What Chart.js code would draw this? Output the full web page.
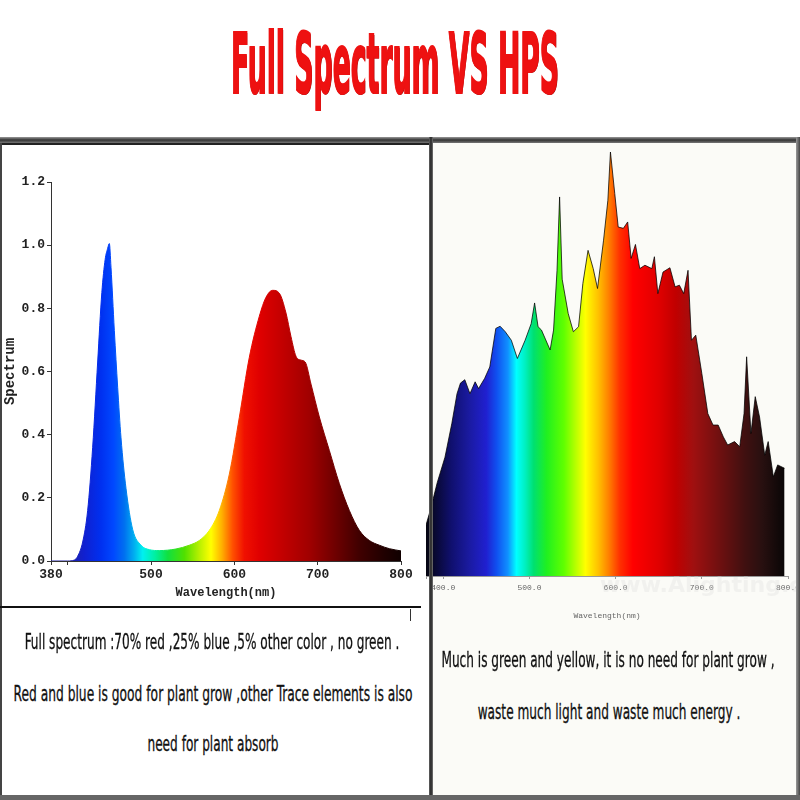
<!DOCTYPE html>
<html>
<head>
<meta charset="utf-8">
<title>Full Spectrum VS HPS</title>
<script src="https://cdn.jsdelivr.net/npm/chart.js@4.4.0/dist/chart.umd.min.js"></script>
<style>
html, body { margin: 0; padding: 0; background: #fff; }
#page { position: relative; width: 800px; height: 800px; overflow: hidden; background: #fff; }
#rightBg { position: absolute; left: 431px; top: 143px; width: 366px; height: 652px; background: #fbfbf7; }
.box { position: absolute; }
#title {
    position: absolute; left: 395px; top: 22px;
    font-family: "Liberation Sans Narrow", "DejaVu Sans Condensed", sans-serif;
    font-weight: bold; font-size: 84px; line-height: 1; color: #ee1111;
    white-space: nowrap; -webkit-text-stroke: 2px #ee1111; text-shadow: 1px 1px 0 #7a0000;
}
.txt {
    position: absolute; white-space: nowrap; line-height: 1;
    font-family: "Liberation Sans Narrow", "DejaVu Sans Condensed", sans-serif;
    font-size: 21px; color: #111; -webkit-text-stroke: 0.3px #111;
}
#leftWrap { position: absolute; left: 0; top: 145px; width: 425px; height: 457px; }
#rightWrap { position: absolute; left: 420px; top: 145px; width: 380px; height: 480px; }
#mark {
    position: absolute; left: 600px; top: 572px; font-family: "DejaVu Sans", sans-serif;
    font-weight: bold; font-size: 22px; color: rgba(220, 220, 220, 0.3); white-space: nowrap;
}
</style>
</head>
<body>
<div id="page">
    <div id="rightBg"></div>
    <div id="title" data-w="328">Full Spectrum VS HPS</div>

    <div id="leftWrap"><canvas id="fullChart"></canvas></div>
    <div id="rightWrap"><canvas id="hpsChart"></canvas></div>
    <div id="mark">www.Alighting.cn</div>

    <!-- frame lines -->
    <div class="box" style="left:0;top:137px;width:800px;height:6px;background:linear-gradient(#999,#333,#777);"></div>
    <div class="box" style="left:0;top:143px;width:429px;height:2px;background:#222;"></div>
    <div class="box" style="left:0;top:143px;width:2px;height:657px;background:#444;"></div>
    <div class="box" style="left:429px;top:137px;width:4px;height:663px;background:linear-gradient(90deg,#666,#222,#777);"></div>
    <div class="box" style="left:796px;top:137px;width:4px;height:663px;background:linear-gradient(90deg,#999,#444);"></div>
    <div class="box" style="left:0;top:795px;width:800px;height:5px;background:#666;"></div>
    <div class="box" style="left:0;top:606px;width:421px;height:1.5px;background:#111;"></div>
    <div class="box" style="left:410px;top:609px;width:1px;height:12px;background:#333;"></div>

    <!-- captions -->
    <div class="txt" style="left:212px;top:632px;" data-w="375">Full spectrum :70% red ,25% blue ,5% other color , no green .</div>
    <div class="txt" style="left:213px;top:684px;" data-w="399">Red and blue is good for plant grow ,other Trace elements is also</div>
    <div class="txt" style="left:213px;top:734px;" data-w="131">need for plant absorb</div>
    <div class="txt" style="left:608px;top:650px;" data-w="333">Much is green and yellow, it is no need for plant grow ,</div>
    <div class="txt" style="left:609px;top:702px;" data-w="263">waste much light and waste much energy .</div>
</div>

<script>
// Full spectrum LED curve (wavelength nm -> relative output)
const leftWavelengths = [380, 400, 408, 412, 418, 424, 430, 436, 441, 445, 448, 450, 452, 456, 460, 464, 470, 478, 488, 498,
    510, 530, 546, 558, 570, 582, 594, 606, 618, 630, 638, 646, 654, 662, 668, 674, 680, 685, 692, 702,
    714, 726, 738, 750, 762, 774, 786, 800];
const leftValues = [0, 0, 0.003, 0.015, 0.06, 0.16, 0.36, 0.63, 0.85, 0.955, 0.99, 1.005, 0.93, 0.73, 0.55, 0.39, 0.23, 0.10, 0.05, 0.036,
    0.033, 0.038, 0.05, 0.065, 0.097, 0.16, 0.275, 0.455, 0.645, 0.775, 0.835, 0.857, 0.848, 0.785, 0.71, 0.648, 0.636, 0.63, 0.56, 0.456,
    0.35, 0.245, 0.16, 0.097, 0.065, 0.05, 0.039, 0.032];
const leftXTicks = [380, 400, 500, 600, 700, 800];

// HPS lamp curve
const hpsWavelengths = [380, 385, 393, 402, 410, 416, 420, 425, 431, 437, 441, 448, 454, 461, 466, 472, 479, 486, 495, 502,
    506, 510, 514, 524, 528, 532, 535, 538, 545, 551, 557, 562, 568, 574, 579, 586, 591, 594, 599, 603,
    609, 614, 618, 623, 628, 634, 642, 645, 649, 655, 663, 669, 674, 679, 684, 688, 693, 700, 707, 713,
    719, 725, 730, 738, 744, 749, 752, 757, 762, 767, 773, 777, 783, 788, 796];
const hpsValues = [0.12, 0.155, 0.22, 0.28, 0.36, 0.43, 0.455, 0.463, 0.43, 0.458, 0.442, 0.466, 0.493, 0.584, 0.589, 0.576, 0.556, 0.513, 0.556, 0.595,
    0.644, 0.588, 0.58, 0.533, 0.58, 0.72, 0.894, 0.70, 0.619, 0.576, 0.588, 0.69, 0.768, 0.725, 0.678, 0.792, 0.886, 1.0, 0.902, 0.823,
    0.82, 0.835, 0.749, 0.782, 0.725, 0.733, 0.725, 0.753, 0.666, 0.717, 0.727, 0.682, 0.686, 0.666, 0.721, 0.556, 0.568, 0.478, 0.383, 0.356,
    0.356, 0.328, 0.309, 0.317, 0.305, 0.383, 0.517, 0.336, 0.423, 0.375, 0.285, 0.317, 0.234, 0.262, 0.254];
const hpsXTicks = [380, 400, 500, 600, 700, 800];

// spectrum colours used for the fills
const leftStopNm = [400, 420, 440, 455, 468, 480, 490, 505, 520, 540, 558, 572, 585, 598, 612, 630, 660, 690, 720, 750, 780, 800];
const leftStopColor = ['#2020a0', '#1020d0', '#0030f0', '#0048ff', '#0070f0', '#00b0f0', '#00f0f0', '#00f0a0', '#10e040', '#50e000',
    '#b8f000', '#ffff00', '#ffb000', '#ff5000', '#f01000', '#e00000', '#c00000', '#a00000', '#700000', '#400000', '#200000', '#100000'];
const hpsStopNm = [380, 395, 410, 430, 450, 462, 475, 485, 495, 505, 520, 540, 555, 565, 580, 592, 605, 620, 650, 670, 690, 710, 730, 750, 770, 790, 800];
const hpsStopColor = ['#05050f', '#0a0a40', '#101070', '#1a1aa0', '#2020d0', '#1050f0', '#1090ff', '#00ffff', '#00f0c0', '#00e070',
    '#20f020', '#60ff00', '#c0ff00', '#ffff00', '#ffc000', '#ff8000', '#ff3000', '#ff0000', '#e00000', '#c00000', '#a01010',
    '#801010', '#601010', '#401010', '#281010', '#100808', '#050505'];

function toPoints(xs, ys) {
    return xs.map((x, i) => ({ x: x, y: ys[i] }));
}

function spectrumFill(stopsNm, stopsColor) {
    return (context) => {
        const chart = context.chart;
        const area = chart.chartArea;
        if (!area || !chart.scales.x) return stopsColor[0];
        const g = chart.ctx.createLinearGradient(area.left, 0, area.right, 0);
        stopsNm.forEach((nm, i) => {
            let off = (chart.scales.x.getPixelForValue(nm) - area.left) / (area.right - area.left);
            off = Math.max(0, Math.min(1, off));
            g.addColorStop(off, stopsColor[i]);
        });
        return g;
    };
}

// fit text lines to their measured width
document.querySelectorAll('[data-w]').forEach(el => {
    const s = parseFloat(el.dataset.w) / el.offsetWidth;
    el.style.transformOrigin = 'center top';
    el.style.transform = 'translateX(-50%) scaleX(' + s + ')';
});

Chart.defaults.animation = false;

// Left: full spectrum LED
new Chart(document.getElementById('fullChart'), {
    type: 'line',
    data: {
        datasets: [{
            data: toPoints(leftWavelengths, leftValues),
            fill: 'origin',
            backgroundColor: spectrumFill(leftStopNm, leftStopColor),
            borderColor: spectrumFill(leftStopNm, leftStopColor),
            borderWidth: 1,
            pointRadius: 0,
            cubicInterpolationMode: 'monotone'
        }]
    },
    options: {
        responsive: true,
        maintainAspectRatio: false,
        layout: { padding: { top: 37, right: 24, left: 0, bottom: 0 } },
        plugins: { legend: { display: false }, tooltip: { enabled: false } },
        scales: {
            x: {
                type: 'linear', min: 380, max: 800,
                afterBuildTicks: (scale) => { scale.ticks = leftXTicks.map(v => ({ value: v })); },
                afterFit: (scale) => { scale.height = 41; scale.paddingLeft = 0; scale.paddingRight = 0; },
                ticks: {
                    autoSkip: false, maxRotation: 0, padding: 2, color: '#222',
                    font: { family: 'Liberation Mono', size: 13, weight: 'bold' },
                    callback: (v) => v === 400 ? '' : String(v)
                },
                grid: { drawOnChartArea: false, tickLength: 4, color: '#333' },
                border: { display: true, color: '#333', width: 1 },
                title: {
                    display: true, text: 'Wavelength(nm)', color: '#222',
                    font: { family: 'Liberation Mono', size: 12, weight: 'bold' },
                    padding: { top: 0, bottom: 2 }
                }
            },
            y: {
                min: 0, max: 1.2,
                afterFit: (scale) => { scale.width = 51; },
                ticks: {
                    stepSize: 0.2, padding: 2, color: '#222',
                    font: { family: 'Liberation Mono', size: 13, weight: 'bold' },
                    callback: (v) => v.toFixed(1)
                },
                grid: { drawOnChartArea: false, tickLength: 4, color: '#333' },
                border: { display: true, color: '#333', width: 1 },
                title: {
                    display: true, text: 'Spectrum', color: '#222',
                    font: { family: 'Liberation Mono', size: 14, weight: 'bold' },
                    padding: { top: 2, bottom: 0 }
                }
            }
        }
    }
});

// Right: HPS lamp
new Chart(document.getElementById('hpsChart'), {
    type: 'line',
    data: {
        datasets: [{
            data: toPoints(hpsWavelengths, hpsValues),
            fill: 'origin',
            backgroundColor: spectrumFill(hpsStopNm, hpsStopColor),
            borderColor: 'rgba(0,0,0,0.75)',
            borderWidth: 1,
            pointRadius: 0,
            tension: 0
        }]
    },
    options: {
        responsive: true,
        maintainAspectRatio: false,
        layout: { padding: { top: 7, right: 12, left: 6, bottom: 0 } },
        plugins: { legend: { display: false }, tooltip: { enabled: false } },
        scales: {
            x: {
                type: 'linear', min: 380, max: 800,
                afterBuildTicks: (scale) => { scale.ticks = hpsXTicks.map(v => ({ value: v })); },
                afterFit: (scale) => { scale.height = 49; scale.paddingLeft = 0; scale.paddingRight = 0; },
                ticks: {
                    autoSkip: false, maxRotation: 0, padding: 4, color: '#666',
                    font: { family: 'Liberation Mono', size: 8 },
                    callback: (v) => v === 380 ? '' : v.toFixed(1)
                },
                grid: { drawOnChartArea: false, tickLength: 3, color: '#999' },
                border: { display: true, color: '#999', width: 1 },
                title: {
                    display: true, text: 'Wavelength(nm)', color: '#666',
                    font: { family: 'Liberation Mono', size: 8 },
                    padding: { top: 0, bottom: 4 }
                }
            },
            y: { display: false, min: 0, max: 1.0 }
        }
    }
});
</script>
</body>
</html>
